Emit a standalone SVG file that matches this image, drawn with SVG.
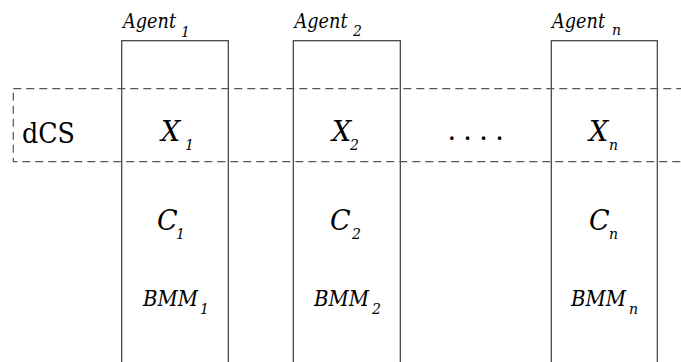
<svg xmlns="http://www.w3.org/2000/svg" width="681" height="362" viewBox="0 0 681 362">
<style>
.bg{fill:#fff}
.box{fill:none;stroke:#3a3a3a;stroke-width:1.2}
.dash{fill:none;stroke:#555;stroke-width:1.2;stroke-dasharray:8 5}
text{font-family:"DejaVu Serif",serif;fill:#000}
.i{font-style:italic}
.ag{font-size:21px}
.big{font-size:27px}
.bmm{font-size:23px}
.sub{font-size:14px}
</style>
<rect class="bg" x="0" y="0" width="681" height="362"/>
<g id="agent1">
<rect class="box" x="121.7" y="40.7" width="106.6" height="340"/>
<text class="i ag"><tspan x="123" y="28" textLength="53" lengthAdjust="spacingAndGlyphs">Agent</tspan><tspan class="sub" x="181" y="37">1</tspan></text>
<text class="i big"><tspan x="161" y="141">X</tspan><tspan class="sub" x="185" y="150">1</tspan></text>
<text class="i big"><tspan x="157" y="230">C</tspan><tspan class="sub" x="176" y="239">1</tspan></text>
<text class="i bmm"><tspan x="143" y="306" textLength="55" lengthAdjust="spacingAndGlyphs">BMM</tspan><tspan class="sub" x="200" y="314">1</tspan></text>
</g>
<g id="agent2">
<rect class="box" x="293.3" y="40.7" width="107" height="340"/>
<text class="i ag"><tspan x="294.5" y="28" textLength="53" lengthAdjust="spacingAndGlyphs">Agent</tspan><tspan class="sub" x="353" y="36">2</tspan></text>
<text class="i big"><tspan x="332" y="141">X</tspan><tspan class="sub" x="350" y="150">2</tspan></text>
<text class="i big"><tspan x="330" y="230">C</tspan><tspan class="sub" x="352" y="239">2</tspan></text>
<text class="i bmm"><tspan x="314" y="306" textLength="55" lengthAdjust="spacingAndGlyphs">BMM</tspan><tspan class="sub" x="372" y="314">2</tspan></text>
</g>
<g id="agentn">
<rect class="box" x="551.3" y="40.7" width="106" height="340"/>
<text class="i ag"><tspan x="552" y="28" textLength="53" lengthAdjust="spacingAndGlyphs">Agent</tspan><tspan class="sub" x="612" y="35">n</tspan></text>
<text class="i big"><tspan x="589" y="141">X</tspan><tspan class="sub" x="609" y="150">n</tspan></text>
<text class="i big"><tspan x="589" y="230">C</tspan><tspan class="sub" x="609" y="239">n</tspan></text>
<text class="i bmm"><tspan x="571" y="306" textLength="55" lengthAdjust="spacingAndGlyphs">BMM</tspan><tspan class="sub" x="629" y="314">n</tspan></text>
</g>
<g id="dcs">
<rect class="dash" x="13.3" y="88.7" width="700" height="73"/>
<text font-size="27" x="22" y="142.5" textLength="53" lengthAdjust="spacingAndGlyphs">dCS</text>
<text font-size="27" x="447.4" y="139.5" letter-spacing="7.4">....</text>
</g>
<g id="connectors"></g>
</svg>
